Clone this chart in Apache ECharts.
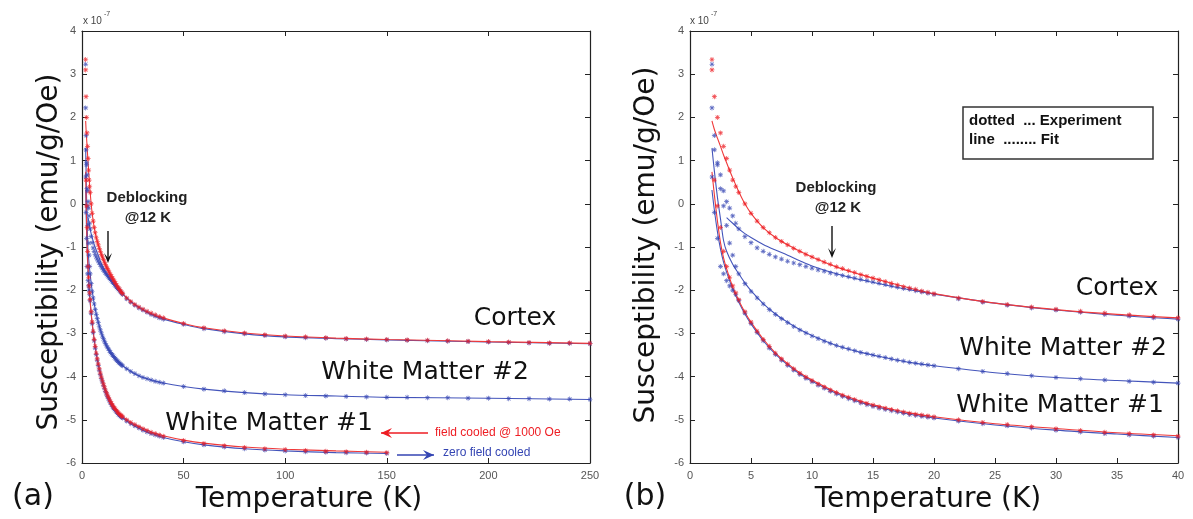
<!DOCTYPE html>
<html><head><meta charset="utf-8">
<script src="https://cdn.jsdelivr.net/npm/echarts@6/dist/echarts.min.js"></script>
<style>html,body{margin:0;padding:0;background:#fff}#c{width:1193px;height:519px}</style>
</head><body><div id="c"></div>
<script>
// ---------- DATA (susceptibility in units of 1e-7 emu/g/Oe) ----------
const T_LOW = [1.8, 2.0, 2.25, 2.5, 2.75, 3.0, 3.25, 3.5, 3.75, 4.0,
  4.5, 5.0, 5.5, 6.0, 6.5, 7.0, 7.5, 8.0, 8.5, 9.0,
  9.5, 10.0, 10.5, 11.0, 11.5, 12.0, 12.5, 13.0, 13.5, 14.0,
  14.5, 15.0, 15.5, 16.0, 16.5, 17.0, 17.5, 18.0, 18.5, 19.0,
  19.5, 20.0,
  22, 24, 26, 28, 30, 32, 34, 36, 38, 40];
const T_HIGH = [50, 60, 70, 80, 90, 100, 110, 120, 130, 140, 150, 160, 170, 180, 190, 200, 210, 220, 230, 240, 250];

const cortexFC_low = [3.34, 2.48, 2.00, 1.64, 1.33, 1.05, 0.78, 0.55, 0.40, 0.26,
  0.00, -0.22, -0.40, -0.55, -0.67, -0.78, -0.87, -0.95, -1.03, -1.10,
  -1.17, -1.23, -1.29, -1.35, -1.40, -1.46, -1.50, -1.55, -1.59, -1.64,
  -1.68, -1.72, -1.76, -1.80, -1.84, -1.88, -1.92, -1.95, -1.98, -2.02,
  -2.05, -2.08,
  -2.18, -2.26, -2.33, -2.39, -2.44, -2.49, -2.53, -2.57, -2.61, -2.64];
const cortexFC_high = [-2.77, -2.87, -2.94, -2.99, -3.03, -3.06, -3.08, -3.10, -3.12, -3.13, -3.14, -3.15, -3.16, -3.17, -3.18, -3.19, -3.20, -3.21, -3.22, -3.22, -3.23];

const cortexZFC_low = [3.23, 1.25, 0.95, 0.67, 0.30, 0.05, -0.10, -0.28, -0.45, -0.58,
  -0.76, -0.90, -1.02, -1.10, -1.17, -1.23, -1.28, -1.33, -1.37, -1.41,
  -1.45, -1.49, -1.53, -1.56, -1.60, -1.63, -1.66, -1.69, -1.72, -1.75,
  -1.78, -1.81, -1.84, -1.87, -1.90, -1.93, -1.96, -1.98, -2.01, -2.04,
  -2.07, -2.10,
  -2.20, -2.28, -2.35, -2.41, -2.46, -2.51, -2.56, -2.60, -2.64, -2.67];
const cortexZFC_high = [-2.79, -2.89, -2.96, -3.01, -3.05, -3.08, -3.10, -3.11, -3.13, -3.14, -3.15, -3.16, -3.17, -3.18, -3.19, -3.20, -3.21, -3.22, -3.23, -3.23, -3.24];

const wm2ZFC_low = [2.22, 1.58, 0.90, 0.35, -0.05, -0.50, -0.91, -1.19, -1.45, -1.62,
  -1.85, -2.03, -2.18, -2.32, -2.45, -2.56, -2.66, -2.75, -2.84, -2.92,
  -2.99, -3.06, -3.12, -3.18, -3.23, -3.28, -3.32, -3.36, -3.40, -3.44,
  -3.47, -3.50, -3.53, -3.56, -3.59, -3.62, -3.64, -3.67, -3.69, -3.71,
  -3.73, -3.75,
  -3.82, -3.88, -3.93, -3.98, -4.02, -4.05, -4.08, -4.11, -4.13, -4.15];
const wm2ZFC_high = [-4.23, -4.29, -4.33, -4.37, -4.40, -4.42, -4.44, -4.45, -4.46, -4.47, -4.48, -4.48, -4.49, -4.49, -4.50, -4.50, -4.51, -4.51, -4.52, -4.52, -4.53];

const wm1FC_low = [3.10, 0.55, -0.05, -0.55, -1.10, -1.45, -1.70, -1.90, -2.06, -2.22,
  -2.50, -2.74, -2.95, -3.14, -3.30, -3.46, -3.59, -3.71, -3.82, -3.92,
  -4.01, -4.09, -4.17, -4.24, -4.31, -4.37, -4.43, -4.48, -4.53, -4.58,
  -4.62, -4.66, -4.70, -4.73, -4.76, -4.79, -4.82, -4.85, -4.87, -4.89,
  -4.91, -4.93,
  -5.00, -5.06, -5.11, -5.16, -5.21, -5.25, -5.29, -5.32, -5.35, -5.38];
const wm1FC_high = [-5.48, -5.55, -5.60, -5.64, -5.67, -5.69, -5.71, -5.73, -5.74, -5.75, -5.76, null, null, null, null, null, null, null, null, null, null];

const wm1ZFC_low = [0.62, -0.20, -0.80, -1.45, -1.62, -1.78, -1.90, -2.00, -2.10, -2.24,
  -2.53, -2.77, -2.98, -3.17, -3.34, -3.49, -3.62, -3.74, -3.85, -3.95,
  -4.04, -4.12, -4.20, -4.27, -4.34, -4.40, -4.46, -4.51, -4.56, -4.61,
  -4.65, -4.69, -4.73, -4.76, -4.79, -4.82, -4.85, -4.88, -4.90, -4.92,
  -4.94, -4.96,
  -5.03, -5.09, -5.14, -5.19, -5.24, -5.28, -5.32, -5.35, -5.38, -5.41];
const wm1ZFC_high = [-5.51, -5.58, -5.63, -5.67, -5.70, -5.72, -5.74, -5.75, -5.76, -5.77, -5.78, null, null, null, null, null, null, null, null, null, null];

// Fit curves
const FIT_T = [1.8, 2, 2.25, 2.5, 2.75, 3, 3.5, 4, 4.5, 5, 6, 7, 8, 9, 10, 12, 14, 16, 18, 20, 25, 30, 35, 40, 50, 60, 80, 100, 125, 150, 200, 250];
const fitCortexFC = [1.92, 1.72, 1.52, 1.33, 1.13, 0.95, 0.60, 0.28, 0.00, -0.22, -0.55, -0.78, -0.95, -1.10, -1.23, -1.46, -1.64, -1.80, -1.95, -2.08, -2.30, -2.45, -2.56, -2.64, -2.77, -2.87, -2.99, -3.06, -3.11, -3.14, -3.19, -3.23];
const fitCortexZFC = [null, null, null, null, null, -0.32, -0.45, -0.58, -0.69, -0.78, -0.94, -1.07, -1.19, -1.32, -1.44, -1.62, -1.76, -1.88, -1.99, -2.09, -2.30, -2.46, -2.58, -2.67, -2.79, -2.89, -3.01, -3.08, -3.12, -3.15, -3.20, -3.24];
const fitWm2ZFC = [1.29, 0.75, 0.15, -0.35, -0.85, -1.10, -1.40, -1.62, -1.83, -2.01, -2.31, -2.55, -2.74, -2.91, -3.05, -3.28, -3.44, -3.56, -3.67, -3.75, -3.91, -4.02, -4.09, -4.15, -4.23, -4.29, -4.37, -4.42, -4.45, -4.48, -4.50, -4.53];
const fitWm1FC = [0.74, 0.20, -0.40, -0.90, -1.25, -1.50, -1.92, -2.24, -2.51, -2.74, -3.13, -3.45, -3.70, -3.91, -4.08, -4.36, -4.57, -4.72, -4.84, -4.93, -5.09, -5.20, -5.30, -5.37, -5.47, -5.54, -5.63, -5.68, -5.72, -5.75, null, null];
const fitWm1ZFC = [0.32, -0.15, -0.65, -1.05, -1.35, -1.58, -1.97, -2.28, -2.55, -2.78, -3.17, -3.48, -3.73, -3.94, -4.11, -4.39, -4.60, -4.75, -4.87, -4.96, -5.12, -5.24, -5.33, -5.41, -5.51, -5.58, -5.67, -5.72, -5.76, -5.78, null, null];

const X_TICKS_A = {min: 0, max: 250, interval: 50};
const X_TICKS_B = {min: 0, max: 40, interval: 5};
const Y_TICKS = {min: -6, max: 4, interval: 1};

// ---------- BUILD ----------
const RED = '#ee1d23', BLUE = '#3445b3';
const RED_FIT = '#f03a3a', BLUE_FIT = '#4455bb';
const STAR = 'path://M4.3,0H5.7V3.3L8.1,0.9L9.1,1.9L6.7,4.3H10V5.7H6.7L9.1,8.1L8.1,9.1L5.7,6.7V10H4.3V6.7L1.9,9.1L0.9,8.1L3.3,5.7H0V4.3H3.3L0.9,1.9L1.9,0.9L4.3,3.3Z';

function pairs(ts, vs, maxT) {
  const out = [];
  for (let i = 0; i < ts.length; i++) {
    if (vs[i] == null || ts[i] > maxT) continue;
    out.push([ts[i], vs[i]]);
  }
  return out;
}
const T_ALL = T_LOW.concat(T_HIGH);
const exp = {
  cortexFC: cortexFC_low.concat(cortexFC_high),
  cortexZFC: cortexZFC_low.concat(cortexZFC_high),
  wm2ZFC: wm2ZFC_low.concat(wm2ZFC_high),
  wm1FC: wm1FC_low.concat(wm1FC_high),
  wm1ZFC: wm1ZFC_low.concat(wm1ZFC_high)
};

function panelSeries(idx, maxT) {
  const s = [];
  const fits = [[fitCortexZFC, BLUE_FIT], [fitWm2ZFC, BLUE_FIT], [fitWm1ZFC, BLUE_FIT], [fitCortexFC, RED_FIT], [fitWm1FC, RED_FIT]];
  fits.forEach(([v, c]) => s.push({
    type: 'line', xAxisIndex: idx * 2, yAxisIndex: idx * 2, data: pairs(FIT_T, v, maxT),
    showSymbol: false, smooth: 0.3, lineStyle: {color: c, width: 1.1}, z: 2, silent: true
  }));
  const pts = [[exp.cortexZFC, BLUE], [exp.wm2ZFC, BLUE], [exp.wm1ZFC, BLUE], [exp.cortexFC, RED], [exp.wm1FC, RED]];
  pts.forEach(([v, c]) => s.push({
    type: 'scatter', xAxisIndex: idx * 2, yAxisIndex: idx * 2, data: pairs(T_ALL, v, maxT),
    symbol: STAR, symbolSize: 5, itemStyle: {color: c}, z: 3, silent: true
  }));
  return s;
}

function axesFor(idx, xt) {
  const line = {show: true, onZero: false, lineStyle: {color: '#222', width: 1.2}};
  const tick = {show: true, inside: true, length: 5, lineStyle: {color: '#222'}};
  const lab = {color: '#555', fontSize: 11, fontFamily: 'Liberation Sans', margin: 7};
  return {
    x: [
      {type: 'value', gridIndex: idx, position: 'bottom', min: xt.min, max: xt.max, interval: xt.interval,
       axisLine: line, axisTick: tick, axisLabel: lab, splitLine: {show: false}},
      {type: 'value', gridIndex: idx, position: 'top', min: xt.min, max: xt.max, interval: xt.interval,
       axisLine: line, axisTick: tick, axisLabel: {show: false}, splitLine: {show: false}}
    ],
    y: [
      {type: 'value', gridIndex: idx, position: 'left', min: Y_TICKS.min, max: Y_TICKS.max, interval: Y_TICKS.interval,
       axisLine: line, axisTick: tick, axisLabel: Object.assign({}, lab, {margin: 6}), splitLine: {show: false}},
      {type: 'value', gridIndex: idx, position: 'right', min: Y_TICKS.min, max: Y_TICKS.max, interval: Y_TICKS.interval,
       axisLine: line, axisTick: tick, axisLabel: {show: false}, splitLine: {show: false}}
    ]
  };
}
const A = axesFor(0, X_TICKS_A), B = axesFor(1, X_TICKS_B);

const TITLE_FONT = '28px "DejaVu Sans"';
const LABEL_FONT = '25px "DejaVu Sans"';
function txt(x, y, text, font, fill, align, extra) {
  return Object.assign({type: 'text', x: x, y: y, silent: true,
    style: {text: text, font: font, fill: fill || '#111', align: align || 'left', verticalAlign: 'middle'}}, extra || {});
}
function vArrow(x, y1, y2) {
  return [
    {type: 'line', silent: true, shape: {x1: x, y1: y1, x2: x, y2: y2 - 4}, style: {stroke: '#111', lineWidth: 1.4}},
    {type: 'polygon', silent: true, shape: {points: [[x - 4, y2 - 10], [x, y2 - 5], [x + 4, y2 - 10], [x, y2]]}, style: {fill: '#111'}}
  ];
}
function hArrow(x1, x2, y, color, headLeft) {
  const hx = headLeft ? x1 : x2, d = headLeft ? 1 : -1;
  return [
    {type: 'line', silent: true, shape: {x1: x1, y1: y, x2: x2, y2: y}, style: {stroke: color, lineWidth: 1.3}},
    {type: 'polygon', silent: true, shape: {points: [[hx + d * 11, y - 5], [hx + d * 7, y], [hx + d * 11, y + 5], [hx, y]]}, style: {fill: color}}
  ];
}

const graphics = [
  // exponent labels
  txt(83, 21, 'x 10', '10px "Liberation Sans"', '#444'),
  txt(104, 14, '-7', '7px "Liberation Sans"', '#444'),
  txt(690, 21, 'x 10', '10px "Liberation Sans"', '#444'),
  txt(711, 14, '-7', '7px "Liberation Sans"', '#444'),
  // axis titles
  txt(50, 252, 'Susceptibility (emu/g/Oe)', TITLE_FONT, '#111', 'center', {rotation: Math.PI / 2}),
  txt(647, 245, 'Susceptibility (emu/g/Oe)', TITLE_FONT, '#111', 'center', {rotation: Math.PI / 2}),
  txt(309, 500, 'Temperature (K)', TITLE_FONT, '#111', 'center'),
  txt(928, 500, 'Temperature (K)', TITLE_FONT, '#111', 'center'),
  txt(33, 497, '(a)', '30px "DejaVu Sans"', '#111', 'center'),
  txt(645, 497, '(b)', '30px "DejaVu Sans"', '#111', 'center'),
  // panel a labels
  txt(147, 198, 'Deblocking', 'bold 15px "Liberation Sans"', '#222', 'center'),
  txt(148, 218, '@12 K', 'bold 15px "Liberation Sans"', '#222', 'center'),
  txt(515, 318, 'Cortex', LABEL_FONT, '#111', 'center'),
  txt(425, 372, 'White Matter #2', LABEL_FONT, '#111', 'center'),
  txt(269, 423, 'White Matter #1', LABEL_FONT, '#111', 'center'),
  txt(435, 433, 'field cooled @ 1000 Oe', '12px "Liberation Sans"', RED, 'left'),
  txt(443, 453, 'zero field cooled', '12px "Liberation Sans"', BLUE, 'left'),
  // panel b labels
  txt(836, 188, 'Deblocking', 'bold 15px "Liberation Sans"', '#222', 'center'),
  txt(838, 208, '@12 K', 'bold 15px "Liberation Sans"', '#222', 'center'),
  txt(1117, 288, 'Cortex', LABEL_FONT, '#111', 'center'),
  txt(1063, 348, 'White Matter #2', LABEL_FONT, '#111', 'center'),
  txt(1060, 405, 'White Matter #1', LABEL_FONT, '#111', 'center'),
  // legend box
  {type: 'rect', silent: true, shape: {x: 963, y: 107, width: 190, height: 52}, style: {fill: '#fff', stroke: '#333', lineWidth: 1.5}, z: 10},
  txt(969, 121, 'dotted  ... Experiment', 'bold 15px "Liberation Sans"', '#111', 'left', {z: 11}),
  txt(969, 140, 'line  ........ Fit', 'bold 15px "Liberation Sans"', '#111', 'left', {z: 11})
].concat(vArrow(108, 231, 263), vArrow(832, 226, 258),
  hArrow(381, 428, 433, RED, true), hArrow(397, 434, 455, BLUE, false));

const option = {
  animation: false,
  backgroundColor: '#fff',
  grid: [
    {left: 82, top: 31, width: 508, height: 432},
    {left: 690, top: 31, width: 488, height: 432}
  ],
  xAxis: [A.x[0], A.x[1], B.x[0], B.x[1]],
  yAxis: [A.y[0], A.y[1], B.y[0], B.y[1]],
  series: panelSeries(0, 250).concat(panelSeries(1, 40)),
  graphic: graphics
};
const chart = echarts.init(document.getElementById('c'));
chart.setOption(option);
</script></body></html>
